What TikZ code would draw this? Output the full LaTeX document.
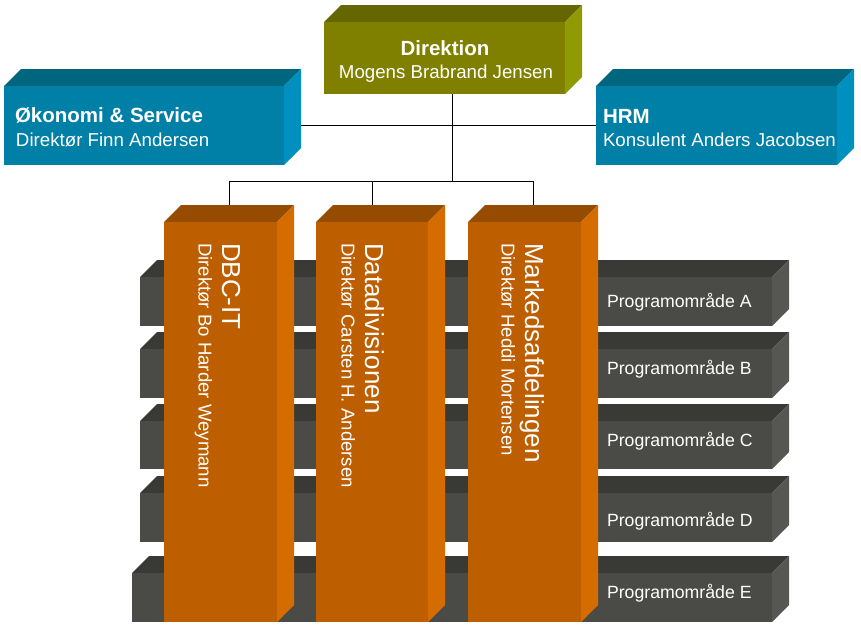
\documentclass[tikz,border=0pt]{standalone}
\usepackage{fontspec}
\setmainfont{Liberation Sans}
\usetikzlibrary{calc}
\definecolor{bluefront}{HTML}{007FA7}
\definecolor{bluetop}{HTML}{00657F}
\definecolor{blueside}{HTML}{0090BF}
\definecolor{olfront}{HTML}{7F8000}
\definecolor{oltop}{HTML}{646600}
\definecolor{olside}{HTML}{8F9B05}
\definecolor{orfront}{HTML}{BD5F00}
\definecolor{ortop}{HTML}{954B00}
\definecolor{orside}{HTML}{D56C00}
\definecolor{grfront}{HTML}{4A4B46}
\definecolor{grtop}{HTML}{393A35}
\definecolor{grside}{HTML}{565753}
\tikzset{
  frontface/.style={rectangle, inner sep=0pt, outer sep=0pt, anchor=north west, draw=none},
  lbl/.style={text=white, inner sep=0pt, outer sep=0pt, anchor=base west},
  hbig/.style={lbl, font=\fontsize{20.5}{24}\selectfont\bfseries},
  hsmall/.style={lbl, font=\fontsize{18.7}{22}\selectfont},
  vbig/.style={lbl, rotate=-90, font=\fontsize{26}{30}\selectfont},
  vsmall/.style={lbl, rotate=-90, font=\fontsize{18.6}{22}\selectfont},
  plbl/.style={lbl, font=\fontsize{17.7}{21}\selectfont},
  conn/.style={draw=black, line width=1pt},
}
% name, x1, y1, x2, y2, front, top, side
\newcommand{\cubebox}[8]{%
  \fill[#7] (#2,#3) -- ++(17,-17) -- (#4+17,#3-17) -- (#4,#3) -- cycle;
  \fill[#8] (#4,#3) -- (#4+17,#3-17) -- (#4+17,#5-17) -- (#4,#5) -- cycle;
  \node[frontface, fill=#6, minimum width={(#4-#2)*1pt}, minimum height={(#5-#3)*1pt}] (#1) at (#2,#3) {};
}
\begin{document}
\begin{tikzpicture}[x=1pt,y=-1pt]
\useasboundingbox (0,0) rectangle (861,629);
% program rows
\cubebox{pa}{140}{277}{772}{326}{grfront}{grtop}{grside}
\cubebox{pb}{140}{349}{772}{398}{grfront}{grtop}{grside}
\cubebox{pc}{140}{421}{772}{469}{grfront}{grtop}{grside}
\cubebox{pd}{140}{493}{772}{542}{grfront}{grtop}{grside}
\cubebox{pe}{132}{573}{772}{622}{grfront}{grtop}{grside}
\node[plbl] (paT) at (607,307) {Programområde A};
\node[plbl] (pbT) at (607,374) {Programområde B};
\node[plbl] (pcT) at (607,446) {Programområde C};
\node[plbl] (pdT) at (607,526) {Programområde D};
\node[plbl] (peT) at (607,598) {Programområde E};
% divisions
\cubebox{dbc}{164}{222}{277}{622}{orfront}{ortop}{orside}
\cubebox{data}{316}{222}{428}{622}{orfront}{ortop}{orside}
\cubebox{mark}{468}{222}{581}{622}{orfront}{ortop}{orside}
\node[vbig] (dbcT) at (222,243) {DBC-IT};
\node[vsmall] (dbcS) at (198.5,243) {Direktør Bo Harder Weymann};
\node[vbig] (dataT) at (365,243) {Datadivisionen};
\node[vsmall] (dataS) at (341.5,243) {Direktør Carsten H. Andersen};
\node[vbig] (markT) at (525,243) {Markedsafdelingen};
\node[vsmall] (markS) at (501.5,243) {Direktør Heddi Mortensen};
% top boxes
\cubebox{dir}{324}{22}{565}{94}{olfront}{oltop}{olside}
\cubebox{oek}{4}{86}{284}{165}{bluefront}{bluetop}{blueside}
\cubebox{hrm}{596}{86}{837}{165}{bluefront}{bluetop}{blueside}
\node[hbig, anchor=base] (dirT) at (445,55) {Direktion};
\node[hsmall, anchor=base] (dirS) at (446,78) {Mogens Brabrand Jensen};
\node[hbig] (oekT) at (15,122) {Økonomi \& Service};
\node[hsmall] (oekS) at (16,146) {Direktør Finn Andersen};
\node[hbig] (hrmT) at (603,123) {HRM};
\node[hsmall] (hrmS) at (603,146) {Konsulent Anders Jacobsen};
% connectors
\coordinate (bus) at (452,181);
\coordinate (dirB) at ([xshift=7.5pt]dir.south);
\coordinate (oekR) at ([xshift=17pt]oek.east);
\coordinate (dbcTop) at ([xshift=8.5pt,yshift=17pt]dbc.north);
\coordinate (dataTop) at ([yshift=17pt]data.north);
\coordinate (markTop) at ([xshift=8.5pt,yshift=17pt]mark.north);
\draw[conn] (oekR) -- (hrm.west);
\draw[conn] (dirB) -- (dirB |- bus);
\draw[conn] (dbcTop) |- (markTop |- bus) -- (markTop);
\draw[conn] (dataTop) -- (dataTop |- bus);
\end{tikzpicture}
\end{document}
